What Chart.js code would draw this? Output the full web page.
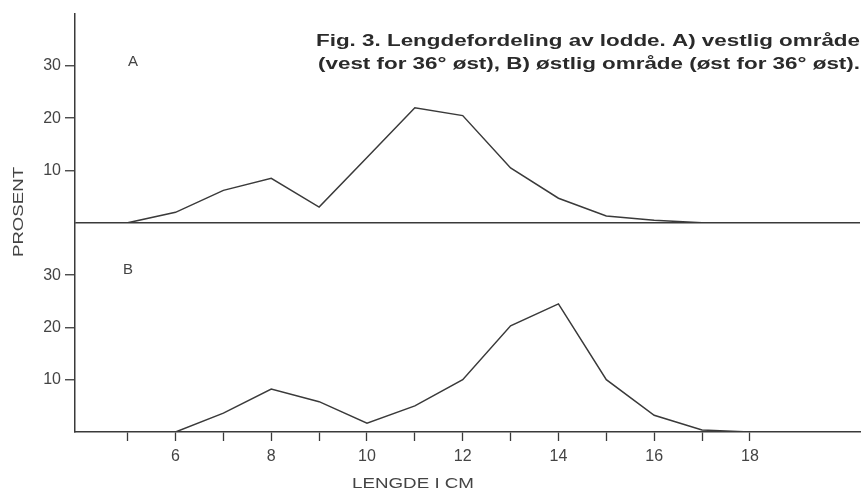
<!DOCTYPE html>
<html>
<head>
<meta charset="utf-8">
<script src="https://cdn.jsdelivr.net/npm/chart.js@4.4.1/dist/chart.umd.min.js"></script>
<style>
  html, body { margin: 0; padding: 0; background: #fff; }
</style>
</head>
<body>
<canvas id="chart" width="864" height="490"></canvas>
<script>
// Lengdefordeling av lodde, prosent per cm-gruppe
const lengthsA = [5, 6, 7, 8, 9, 10, 11, 12, 13, 14, 15, 16, 17]
const percentA = [0, 2, 6.2, 8.5, 3, 12.5, 22, 20.5, 10.5, 4.7, 1.3, 0.5, 0]
const lengthsB = [6, 7, 8, 9, 10, 11, 12, 13, 14, 15, 16, 17, 18]
const percentB = [0, 3.6, 8.2, 5.8, 1.7, 5, 10, 20.3, 24.5, 10, 3.2, 0.4, 0]

const xTicks = [5, 6, 7, 8, 9, 10, 11, 12, 13, 14, 15, 16, 17, 18]
const xLabels = [6, 8, 10, 12, 14, 16, 18]
const yTicks = [0, 10, 20, 30]
const yLabels = [10, 20, 30]

const caption = [
  "Fig. 3. Lengdefordeling av lodde. A) vestlig område",
  "(vest for 36° øst), B) østlig område (øst for 36° øst)."
]

const INK = '#3a3a3a'
const FONT = 'Liberation Sans'

const toPoints = (xs, ys) => xs.map((x, i) => ({ x: x, y: ys[i] }))

// one panel = one stacked y axis
function panelAxis(weight, showBaseline) {
  return {
    type: 'linear',
    position: 'left',
    stack: 'panels',
    stackWeight: 1,
    weight: weight,
    min: 0,
    max: 40,
    afterBuildTicks: s => { s.ticks = yTicks.map(v => ({ value: v })) },
    afterFit: s => { s.width = 75 },
    grid: {
      color: c => (showBaseline && c.tick && c.tick.value === 0) ? INK : 'transparent',
      lineWidth: 1.5,
      tickLength: 10,
      tickColor: c => (c.tick && c.tick.value === 0) ? 'transparent' : INK,
      tickWidth: 1.3
    },
    border: { color: INK, width: 1.5 },
    ticks: {
      callback: v => yLabels.includes(v) ? v : '',
      color: '#444',
      font: { family: FONT, size: 16 },
      padding: 4,
      autoSkip: false
    }
  }
}

function drawFitted(ctx, text, x, y, width, font) {
  ctx.save()
  ctx.font = font
  const w = ctx.measureText(text).width
  ctx.translate(x, y)
  ctx.scale(width / w, 1)
  ctx.textAlign = 'left'
  ctx.textBaseline = 'middle'
  ctx.fillText(text, 0, 0)
  ctx.restore()
}

const textPlugin = {
  id: 'figureText',
  beforeDraw(chart) {
    const ctx = chart.ctx
    ctx.save()
    ctx.fillStyle = '#fff'
    ctx.fillRect(0, 0, chart.width, chart.height)
    ctx.restore()
  },
  afterDraw(chart) {
    const ctx = chart.ctx
    ctx.save()
    ctx.fillStyle = '#2a2a2a'

    // figure caption, top right
    drawFitted(ctx, caption[0], 316, 42, 544, 'bold 16px ' + FONT)
    drawFitted(ctx, caption[1], 318, 65, 542, 'bold 16px ' + FONT)

    // panel letters
    ctx.fillStyle = '#444'
    ctx.font = '15px ' + FONT
    ctx.textAlign = 'center'
    ctx.textBaseline = 'middle'
    ctx.fillText('A', 133, 62)
    ctx.fillText('B', 128, 270)

    // axis titles
    drawFitted(ctx, 'LENGDE I CM', 352, 484, 122, '15px ' + FONT)
    ctx.save()
    ctx.translate(19, 257)
    ctx.rotate(-Math.PI / 2)
    drawFitted(ctx, 'PROSENT', 0, 0, 90, '15px ' + FONT)
    ctx.restore()

    ctx.restore()
  }
}

new Chart(document.getElementById('chart'), {
  type: 'line',
  data: {
    datasets: [
      {
        label: 'A',
        data: toPoints(lengthsA, percentA),
        xAxisID: 'x',
        yAxisID: 'yA',
        borderColor: INK,
        borderWidth: 1.5,
        pointRadius: 0,
        tension: 0,
        fill: false
      },
      {
        label: 'B',
        data: toPoints(lengthsB, percentB),
        xAxisID: 'x',
        yAxisID: 'yB',
        borderColor: INK,
        borderWidth: 1.5,
        pointRadius: 0,
        tension: 0,
        fill: false
      }
    ]
  },
  options: {
    responsive: false,
    animation: false,
    layout: { padding: { top: 12, right: 4, left: 0, bottom: 0 } },
    plugins: {
      legend: { display: false },
      tooltip: { enabled: false }
    },
    scales: {
      x: {
        type: 'linear',
        min: 3.9,
        max: 20.3,
        afterBuildTicks: s => { s.ticks = xTicks.map(v => ({ value: v })) },
        afterFit: s => { s.height = 58 },
        grid: { drawOnChartArea: false, tickLength: 9, tickWidth: 1.3, tickColor: INK },
        border: { color: INK, width: 1.5 },
        ticks: {
          callback: v => xLabels.includes(v) ? v : '',
          color: '#444',
          font: { family: FONT, size: 16 },
          padding: 6,
          maxRotation: 0,
          autoSkip: false
        }
      },
      yB: panelAxis(1, false),
      yA: panelAxis(2, true)
    }
  },
  plugins: [textPlugin]
})
</script>
</body>
</html>
